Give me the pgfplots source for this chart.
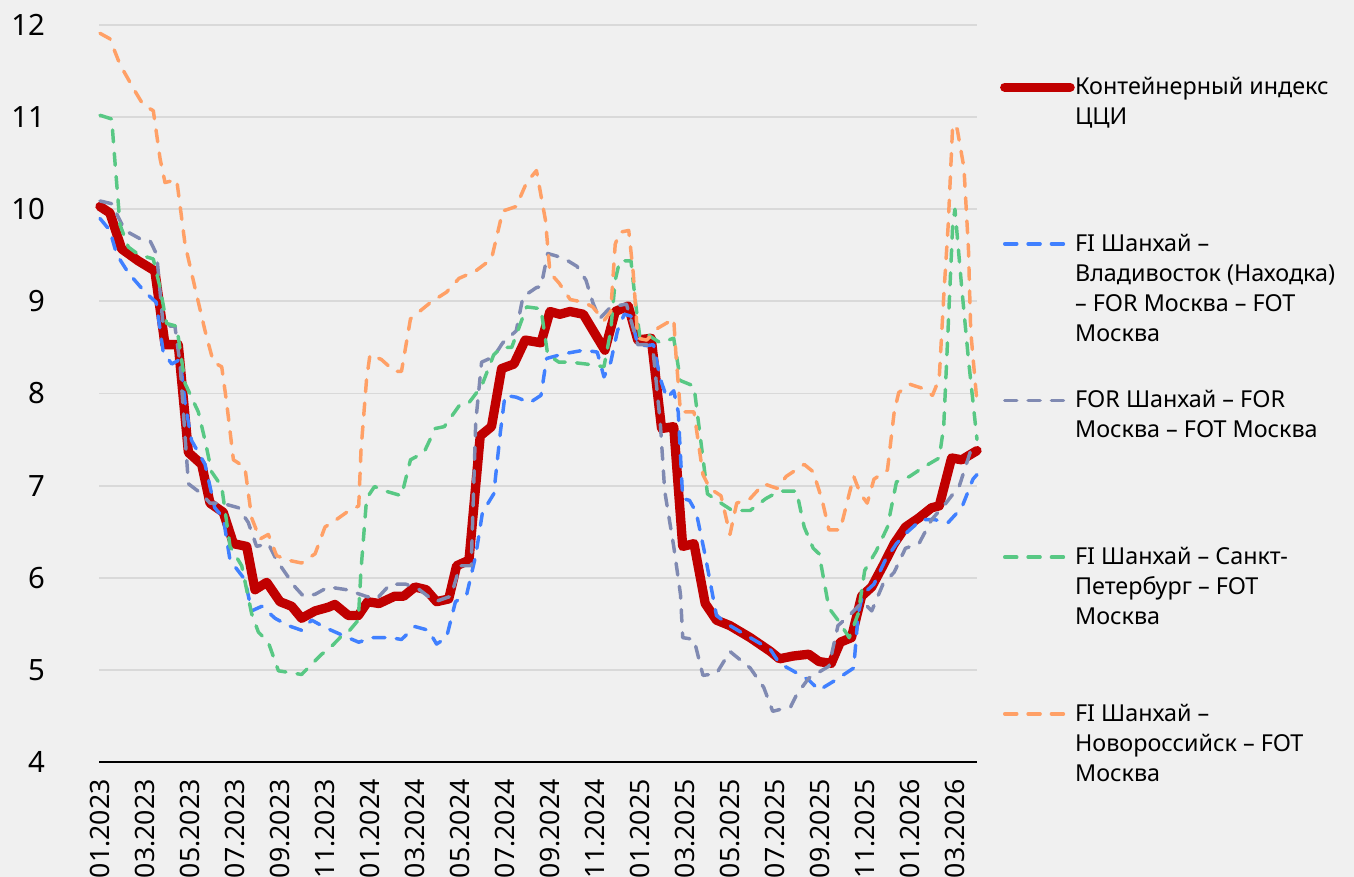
\documentclass[border=0pt]{standalone}
\usepackage{fontspec}
\setmainfont{Noto Sans}
\usepackage{pgfplots}
\pgfplotsset{compat=1.18}
\definecolor{bg}{RGB}{240,240,240}
\definecolor{gridc}{RGB}{217,217,217}
\definecolor{cred}{RGB}{192,0,0}
\definecolor{cblue}{RGB}{64,128,255}
\definecolor{cgray}{RGB}{128,138,178}
\definecolor{cgreen}{RGB}{88,200,132}
\definecolor{corange}{RGB}{255,160,102}
\newcommand{\lgd}[1]{\parbox[t]{215pt}{\raggedright\rule{0pt}{14pt}#1}}
\begin{document}
\begin{tikzpicture}
\useasboundingbox (0,0) rectangle (1015.5pt,657.75pt);
\fill[bg] (0,0) rectangle (1015.5pt,657.75pt);
\begin{axis}[
  at={(74.25pt,86.25pt)}, anchor=south west,
  scale only axis, width=658.5pt, height=552.75pt,
  xmin=-0.044, xmax=38.98, ymin=4, ymax=12,
  xtick={0,2,...,38},
  xticklabels={01.2023,03.2023,05.2023,07.2023,09.2023,11.2023,01.2024,03.2024,05.2024,07.2024,09.2024,11.2024,01.2025,03.2025,05.2025,07.2025,09.2025,11.2025,01.2026,03.2026},
  ytick={4,5,...,12},
  ymajorgrids, grid style={color=gridc, line width=1.4pt},
  axis x line*=bottom, axis y line*=left,
  x axis line style={black, line width=1.5pt, -},
  y axis line style={draw=none},
  major tick length=0pt,
  /pgf/number format/assume math mode=true,
  xticklabel shift=9.5pt,
  xticklabel style={rotate=90, anchor=east, font=\fontsize{20}{20}\selectfont},
  yticklabel style={xshift=-37pt, font=\fontsize{22}{22}\selectfont},
  clip=false,
  legend cell align=left,
  legend style={at={(1.0263,0.9346)}, anchor=north west, draw=none, fill=none,
    inner sep=0pt, outer sep=0pt, row sep=98pt, column sep=-1.75pt,
    font=\fontsize{17.5}{22.5}\selectfont, cells={anchor=base west}},
  legend image code/.code={\draw[#1] (0pt,5.5pt) -- (49pt,5.5pt);},
  every axis plot/.append style={line join=round, line cap=round},
]
\addplot[cred, line width=7pt] coordinates {
(0,10.03) (0.44,9.96) (0.96,9.57) (1.70,9.44) (2.44,9.33) (2.89,8.53) (3.48,8.53)
(3.93,7.36) (4.52,7.23) (4.89,6.81) (5.48,6.71) (5.93,6.37) (6.52,6.34) (6.89,5.87)
(7.41,5.95) (8.0,5.74) (8.52,5.69) (8.96,5.56) (9.56,5.64) (10.15,5.68) (10.44,5.71)
(11.04,5.59) (11.48,5.59) (11.9,5.74) (12.4,5.72) (13.1,5.80) (13.5,5.80) (14.0,5.90)
(14.5,5.87) (14.96,5.74) (15.5,5.77) (15.85,6.13) (16.4,6.19) (16.9,7.54) (17.4,7.64)
(17.85,8.27) (18.4,8.32) (18.9,8.58) (19.6,8.55) (20.0,8.89) (20.44,8.86) (20.89,8.89)
(21.48,8.86) (22.44,8.47) (22.9,8.89) (23.48,8.95) (23.9,8.58) (24.5,8.60) (24.96,7.62)
(25.5,7.64) (25.9,6.34) (26.4,6.37) (26.9,5.72) (27.4,5.54) (28.0,5.48) (28.9,5.35)
(29.8,5.20) (30.2,5.12) (30.8,5.15) (31.5,5.17) (31.96,5.09) (32.5,5.07) (32.9,5.30)
(33.4,5.35) (33.85,5.80) (34.3,5.90) (34.8,6.13) (35.3,6.37) (35.8,6.55) (36.4,6.65)
(36.96,6.76) (37.3,6.78) (37.85,7.30) (38.3,7.28) (38.98,7.38)
};
\addlegendentry{\lgd{Контейнерный индекс\\ЦЦИ}}
\addplot[cblue, line width=2.6pt, dash pattern=on 9pt off 8.5pt] coordinates {
(0,9.90) (0.44,9.77) (0.74,9.51) (1.26,9.31) (2.0,9.10) (2.5,8.99) (2.81,8.45)
(3.19,8.32) (3.56,8.37) (3.78,7.90) (4.07,7.49) (4.67,7.23) (5.1,6.76) (5.48,6.65)
(5.78,6.19) (6.44,5.98) (6.74,5.64) (7.19,5.69) (7.78,5.56) (8.37,5.48) (8.96,5.43)
(9.41,5.54) (10.0,5.46) (10.74,5.38) (11.5,5.30) (12.1,5.35) (12.9,5.35) (13.4,5.33)
(14.0,5.47) (14.6,5.43) (14.96,5.28) (15.4,5.35) (15.8,5.74) (16.3,5.82) (16.7,6.24)
(17.0,6.71) (17.5,6.91) (17.8,7.59) (18.0,7.98) (18.5,7.96) (19.1,7.90) (19.6,7.98)
(19.85,8.38) (20.6,8.43) (21.5,8.47) (22.1,8.45) (22.4,8.18) (22.7,8.34) (23.0,8.68)
(23.3,8.86) (23.6,8.84) (23.9,8.53) (24.3,8.52) (24.6,8.53) (24.9,8.16) (25.2,7.95)
(25.5,8.03) (25.7,7.80) (25.9,6.86) (26.2,6.84) (26.5,6.71) (26.9,6.24) (27.4,5.59)
(28.0,5.48) (28.9,5.35) (29.8,5.22) (30.2,5.07) (30.8,4.99) (31.5,4.89) (31.96,4.78)
(32.7,4.89) (33.5,5.02) (33.7,5.61) (33.9,5.82) (34.4,5.93) (34.9,6.19) (35.4,6.37)
(35.9,6.50) (36.5,6.63) (37.1,6.63) (37.7,6.60) (38.3,6.76) (38.8,7.07) (38.98,7.12)
};
\addlegendentry{\lgd{FI Шанхай –\\Владивосток (Находка)\\– FOR Москва – FOT\\Москва}}
\addplot[cgray, line width=2.6pt, dash pattern=on 9pt off 8.5pt] coordinates {
(0,10.09) (0.52,10.06) (1.11,9.77) (1.85,9.67) (2.22,9.66) (2.52,9.51) (2.81,8.73)
(3.33,8.73) (3.56,8.32) (3.78,7.54) (3.93,7.02) (4.52,6.91) (4.89,6.81) (5.41,6.81)
(6.15,6.76) (6.59,6.60) (6.96,6.34) (7.48,6.37) (7.85,6.19) (8.67,5.90) (9.04,5.80)
(9.56,5.82) (10.15,5.90) (10.96,5.87) (11.8,5.80) (12.3,5.77) (12.9,5.93) (13.6,5.93)
(14.2,5.87) (14.9,5.74) (15.6,5.80) (16.0,6.13) (16.5,6.13) (16.7,7.69) (16.96,8.34)
(17.5,8.40) (17.9,8.55) (18.5,8.68) (18.8,9.05) (19.4,9.15) (19.6,9.16) (19.9,9.52)
(20.6,9.47) (21.2,9.38) (21.6,9.23) (21.9,8.99) (22.2,8.81) (22.7,8.94) (23.4,8.97)
(23.9,8.53) (24.3,8.53) (24.6,8.42) (24.9,7.69) (25.1,6.94) (25.5,6.34) (25.8,5.82)
(25.9,5.35) (26.4,5.33) (26.8,4.94) (27.4,4.96) (28.0,5.20) (28.9,5.02) (29.5,4.81)
(29.9,4.55) (30.7,4.60) (30.96,4.73) (31.5,4.91) (32.4,5.04) (32.8,5.48) (33.3,5.59)
(33.9,5.74) (34.3,5.64) (34.8,5.93) (35.3,6.06) (35.8,6.32) (36.4,6.37) (36.96,6.63)
(37.6,6.81) (38.2,7.00) (38.7,7.38) (38.98,7.45)
};
\addlegendentry{\lgd{FOR Шанхай – FOR\\Москва – FOT Москва}}
\addplot[cgreen, line width=2.6pt, dash pattern=on 9pt off 8.5pt] coordinates {
(0,11.02) (0.52,10.98) (0.67,10.50) (0.89,9.83) (1.26,9.59) (1.7,9.51) (2.37,9.46)
(2.67,9.15) (2.96,8.76) (3.41,8.73) (3.78,8.11) (4.37,7.80) (4.67,7.49) (4.96,7.15)
(5.41,6.99) (5.78,6.34) (6.3,6.13) (6.74,5.61) (7.04,5.41) (7.48,5.30) (7.93,4.99)
(8.96,4.95) (9.85,5.17) (10.15,5.22) (10.67,5.35) (11.1,5.43) (11.48,5.54) (11.6,6.08)
(11.85,6.86) (12.2,6.99) (12.7,6.94) (13.4,6.89) (13.8,7.28) (14.4,7.36) (14.9,7.62)
(15.3,7.64) (16.0,7.88) (16.4,7.90) (16.96,8.08) (17.5,8.42) (17.85,8.50) (18.3,8.50)
(18.96,8.94) (19.6,8.92) (19.9,8.42) (20.4,8.34) (20.9,8.34) (21.6,8.32) (22.4,8.29)
(22.7,8.68) (22.9,9.23) (23.1,9.44) (23.6,9.44) (23.8,8.99) (24.0,8.60) (24.4,8.63)
(24.9,8.55) (25.5,8.60) (25.8,8.14) (26.4,8.08) (26.7,7.49) (27.0,6.91) (27.6,6.81)
(28.1,6.73) (28.9,6.73) (29.6,6.86) (30.2,6.94) (30.96,6.94) (31.3,6.55) (31.7,6.32)
(31.96,6.26) (32.4,5.67) (32.8,5.54) (33.3,5.35) (33.7,5.61) (33.99,6.08) (34.5,6.29)
(35.0,6.55) (35.4,7.04) (35.99,7.10) (36.6,7.20) (37.3,7.30) (37.5,7.64) (37.7,8.73)
(37.9,9.83) (38.0,10.00) (38.3,9.15) (38.6,8.37) (38.98,7.50)
};
\addlegendentry{\lgd{FI Шанхай – Санкт-\\Петербург – FOT\\Москва}}
\addplot[corange, line width=2.6pt, dash pattern=on 9pt off 8.5pt] coordinates {
(0,11.91) (0.44,11.85) (0.89,11.57) (1.56,11.28) (1.93,11.13) (2.37,11.07) (2.67,10.55)
(2.89,10.29) (3.41,10.32) (3.78,9.62) (4.22,9.15) (4.67,8.68) (5.04,8.34) (5.41,8.29)
(5.63,7.90) (5.93,7.28) (6.44,7.20) (6.74,6.65) (7.11,6.42) (7.48,6.47) (7.85,6.24)
(8.37,6.19) (8.96,6.16) (9.56,6.26) (10.0,6.55) (10.5,6.63) (10.96,6.71) (11.5,6.78)
(11.6,7.38) (11.85,8.16) (12.0,8.42) (12.5,8.37) (13.1,8.24) (13.4,8.24) (13.8,8.81)
(14.7,8.99) (15.4,9.10) (15.96,9.25) (16.7,9.33) (17.4,9.46) (17.9,9.98) (18.5,10.03)
(18.96,10.29) (19.4,10.42) (19.8,9.88) (20.0,9.31) (20.4,9.20) (20.9,9.02) (21.5,8.99)
(21.9,8.94) (22.4,8.79) (22.7,8.89) (22.9,9.62) (23.1,9.75) (23.5,9.77) (23.7,9.31)
(23.9,8.60) (24.3,8.58) (24.8,8.71) (25.5,8.81) (25.6,8.42) (25.8,7.80) (26.4,7.80)
(26.8,7.12) (27.1,6.97) (27.6,6.89) (28.0,6.47) (28.3,6.81) (28.9,6.86) (29.5,7.02)
(30.1,6.97) (30.5,7.10) (31.3,7.23) (31.7,7.15) (32.1,6.84) (32.4,6.52) (32.9,6.52)
(33.3,6.91) (33.5,7.10) (33.8,6.91) (34.1,6.81) (34.4,7.07) (35.0,7.17) (35.3,7.80)
(35.5,8.01) (36.0,8.10) (36.5,8.06) (37.0,7.98) (37.3,8.16) (37.5,9.05) (37.7,9.83)
(37.9,10.92) (38.1,10.87) (38.4,10.45) (38.6,9.57) (38.7,8.68) (38.98,7.90)
};
\addlegendentry{\lgd{FI Шанхай –\\Новороссийск – FOT\\Москва}}
\end{axis}
\end{tikzpicture}
\end{document}
